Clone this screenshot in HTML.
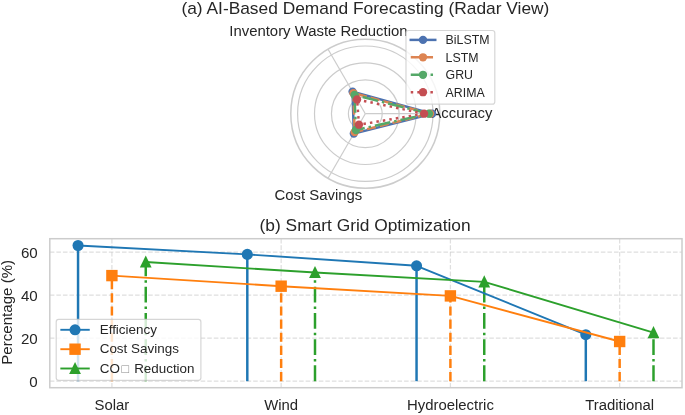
<!DOCTYPE html>
<html><head><meta charset="utf-8"><title>Charts</title>
<style>html,body{margin:0;padding:0;background:#fff}svg{display:block}text{font-family:"Liberation Sans",sans-serif;fill:#262626}</style></head><body>
<svg width="685" height="415" viewBox="0 0 685 415">
<rect width="685" height="415" fill="#fff"/>
<g fill="none" stroke="#cccccc" stroke-width="1.2">
<circle cx="365.3" cy="113.7" r="16.9"/>
<circle cx="365.3" cy="113.7" r="33.85"/>
<circle cx="365.3" cy="113.7" r="50.8"/>
<circle cx="365.3" cy="113.7" r="67.7"/>
<line x1="365.3" y1="113.7" x2="439.80" y2="113.70"/>
<line x1="365.3" y1="113.7" x2="328.05" y2="49.18"/>
<line x1="365.3" y1="113.7" x2="328.05" y2="178.22"/>
<circle cx="365.3" cy="113.7" r="74.5" stroke-width="1.5"/>
</g>
<text x="431.5" y="117.5" font-size="14.8">Accuracy</text>
<path d="M432.10 113.70 L352.55 91.62 L353.80 133.62 L432.10 113.70" fill="none" stroke="#4c72b0" stroke-width="2.475" stroke-linejoin="round"/>
<circle cx="432.10" cy="113.70" r="4.15" fill="#4c72b0"/>
<circle cx="352.55" cy="91.62" r="4.15" fill="#4c72b0"/>
<circle cx="353.80" cy="133.62" r="4.15" fill="#4c72b0"/>
<path d="M430.10 113.70 L353.40 93.09 L354.65 132.15 L430.10 113.70" fill="none" stroke="#dd8452" stroke-width="2.475" stroke-linejoin="round" stroke-dasharray="9.16 3.96"/>
<circle cx="430.10" cy="113.70" r="4.15" fill="#dd8452"/>
<circle cx="353.40" cy="93.09" r="4.15" fill="#dd8452"/>
<circle cx="354.65" cy="132.15" r="4.15" fill="#dd8452"/>
<path d="M428.90 113.70 L354.50 94.99 L355.90 129.98 L428.90 113.70" fill="none" stroke="#55a868" stroke-width="2.475" stroke-linejoin="round" stroke-dasharray="15.84 3.96 2.475 3.96"/>
<circle cx="428.90" cy="113.70" r="4.15" fill="#55a868"/>
<circle cx="354.50" cy="94.99" r="4.15" fill="#55a868"/>
<circle cx="355.90" cy="129.98" r="4.15" fill="#55a868"/>
<path d="M424.10 113.70 L357.10 99.50 L358.95 124.70 L424.10 113.70" fill="none" stroke="#c44e52" stroke-width="2.475" stroke-linejoin="round" stroke-dasharray="2.475 4.08"/>
<circle cx="424.10" cy="113.70" r="4.15" fill="#c44e52"/>
<circle cx="357.10" cy="99.50" r="4.15" fill="#c44e52"/>
<circle cx="358.95" cy="124.70" r="4.15" fill="#c44e52"/>
<text x="318.4" y="35.9" font-size="14.9" text-anchor="middle">Inventory Waste Reduction</text>
<text x="318.4" y="199.6" font-size="14.9" text-anchor="middle">Cost Savings</text>
<text x="365.4" y="14" font-size="17.35" text-anchor="middle">(a) AI-Based Demand Forecasting (Radar View)</text>
<rect x="406.0" y="30.5" width="88.8" height="73.7" rx="2.5" fill="#fff" fill-opacity="0.8" stroke="#cccccc" stroke-opacity="0.8" stroke-width="1.2"/>
<line x1="410.75" y1="39.9" x2="435.25" y2="39.9" stroke="#4c72b0" stroke-width="2.475" stroke-linecap="square"/>
<circle cx="423" cy="39.9" r="4.15" fill="#4c72b0"/>
<text x="445.6" y="44.2" font-size="12.35">BiLSTM</text>
<line x1="410.75" y1="57.3" x2="435.25" y2="57.3" stroke="#dd8452" stroke-width="2.475" stroke-dasharray="9.16 3.96"/>
<circle cx="423" cy="57.3" r="4.15" fill="#dd8452"/>
<text x="445.6" y="61.6" font-size="12.35">LSTM</text>
<line x1="410.75" y1="74.8" x2="435.25" y2="74.8" stroke="#55a868" stroke-width="2.475" stroke-dasharray="15.84 3.96 2.475 3.96"/>
<circle cx="423" cy="74.8" r="4.15" fill="#55a868"/>
<text x="445.6" y="79.1" font-size="12.35">GRU</text>
<line x1="410.75" y1="92.2" x2="435.25" y2="92.2" stroke="#c44e52" stroke-width="2.475" stroke-dasharray="2.475 4.08"/>
<circle cx="423" cy="92.2" r="4.15" fill="#c44e52"/>
<text x="445.6" y="96.5" font-size="12.35">ARIMA</text>
<rect x="49.8" y="238.7" width="632.2" height="149.0" fill="#fff"/>
<g stroke="#cccccc" stroke-opacity="0.62" stroke-width="1.24" stroke-dasharray="4.58 1.98" fill="none">
<line x1="49.8" y1="381.20" x2="682.0" y2="381.20"/>
<line x1="49.8" y1="338.20" x2="682.0" y2="338.20"/>
<line x1="49.8" y1="295.20" x2="682.0" y2="295.20"/>
<line x1="49.8" y1="252.20" x2="682.0" y2="252.20"/>
<line x1="111.90" y1="387.7" x2="111.90" y2="238.7"/>
<line x1="281.15" y1="387.7" x2="281.15" y2="238.7"/>
<line x1="450.40" y1="387.7" x2="450.40" y2="238.7"/>
<line x1="619.65" y1="387.7" x2="619.65" y2="238.7"/>
</g>
<line x1="78.05" y1="381.2" x2="78.05" y2="245.50" stroke="#1f77b4" stroke-width="2.475"/>
<line x1="247.30" y1="381.2" x2="247.30" y2="254.40" stroke="#1f77b4" stroke-width="2.475"/>
<line x1="416.55" y1="381.2" x2="416.55" y2="265.80" stroke="#1f77b4" stroke-width="2.475"/>
<line x1="585.80" y1="381.2" x2="585.80" y2="334.70" stroke="#1f77b4" stroke-width="2.475"/>
<line x1="111.90" y1="381.2" x2="111.90" y2="275.60" stroke="#ff7f0e" stroke-width="2.475" stroke-dasharray="9.16 3.96"/>
<line x1="281.15" y1="381.2" x2="281.15" y2="286.20" stroke="#ff7f0e" stroke-width="2.475" stroke-dasharray="9.16 3.96"/>
<line x1="450.40" y1="381.2" x2="450.40" y2="295.90" stroke="#ff7f0e" stroke-width="2.475" stroke-dasharray="9.16 3.96"/>
<line x1="619.65" y1="381.2" x2="619.65" y2="341.50" stroke="#ff7f0e" stroke-width="2.475" stroke-dasharray="9.16 3.96"/>
<line x1="145.75" y1="381.2" x2="145.75" y2="262.05" stroke="#2ca02c" stroke-width="2.475" stroke-dasharray="15.84 3.96 2.475 3.96"/>
<line x1="315.00" y1="381.2" x2="315.00" y2="272.50" stroke="#2ca02c" stroke-width="2.475" stroke-dasharray="15.84 3.96 2.475 3.96"/>
<line x1="484.25" y1="381.2" x2="484.25" y2="281.90" stroke="#2ca02c" stroke-width="2.475" stroke-dasharray="15.84 3.96 2.475 3.96"/>
<line x1="653.50" y1="381.2" x2="653.50" y2="332.60" stroke="#2ca02c" stroke-width="2.475" stroke-dasharray="15.84 3.96 2.475 3.96"/>
<path d="M78.05 245.50 L247.30 254.40 L416.55 265.80 L585.80 334.70" fill="none" stroke="#1f77b4" stroke-width="1.9" stroke-linejoin="round"/>
<circle cx="78.05" cy="245.50" r="5.55" fill="#1f77b4"/>
<circle cx="247.30" cy="254.40" r="5.55" fill="#1f77b4"/>
<circle cx="416.55" cy="265.80" r="5.55" fill="#1f77b4"/>
<circle cx="585.80" cy="334.70" r="5.55" fill="#1f77b4"/>
<path d="M111.90 275.60 L281.15 286.20 L450.40 295.90 L619.65 341.50" fill="none" stroke="#ff7f0e" stroke-width="1.9" stroke-linejoin="round"/>
<rect x="106.20" y="269.90" width="11.4" height="11.4" fill="#ff7f0e"/>
<rect x="275.45" y="280.50" width="11.4" height="11.4" fill="#ff7f0e"/>
<rect x="444.70" y="290.20" width="11.4" height="11.4" fill="#ff7f0e"/>
<rect x="613.95" y="335.80" width="11.4" height="11.4" fill="#ff7f0e"/>
<path d="M145.75 262.05 L315.00 272.50 L484.25 281.90 L653.50 332.60" fill="none" stroke="#2ca02c" stroke-width="1.9" stroke-linejoin="round"/>
<path d="M145.75 255.45 L151.65 267.60 L139.85 267.60 Z" fill="#2ca02c"/>
<path d="M315.00 265.90 L320.90 278.05 L309.10 278.05 Z" fill="#2ca02c"/>
<path d="M484.25 275.30 L490.15 287.45 L478.35 287.45 Z" fill="#2ca02c"/>
<path d="M653.50 326.00 L659.40 338.15 L647.60 338.15 Z" fill="#2ca02c"/>
<rect x="49.8" y="238.7" width="632.2" height="149.0" fill="none" stroke="#cccccc" stroke-width="1.5"/>
<text x="37.7" y="386.7" font-size="15.1" text-anchor="end">0</text>
<text x="37.7" y="343.7" font-size="15.1" text-anchor="end">20</text>
<text x="37.7" y="300.7" font-size="15.1" text-anchor="end">40</text>
<text x="37.7" y="257.7" font-size="15.1" text-anchor="end">60</text>
<text x="111.90" y="409.8" font-size="14.9" text-anchor="middle">Solar</text>
<text x="281.15" y="409.8" font-size="14.9" text-anchor="middle">Wind</text>
<text x="450.40" y="409.8" font-size="14.9" text-anchor="middle">Hydroelectric</text>
<text x="619.65" y="409.8" font-size="14.9" text-anchor="middle">Traditional</text>
<text transform="translate(12.1 312.3) rotate(-90)" font-size="15.1" text-anchor="middle">Percentage (%)</text>
<text x="365.1" y="230.9" font-size="17.35" text-anchor="middle">(b) Smart Grid Optimization</text>
<rect x="56.2" y="319.4" width="144.7" height="60.9" rx="2.5" fill="#fff" fill-opacity="0.8" stroke="#cccccc" stroke-opacity="0.8" stroke-width="1.2"/>
<line x1="61.3" y1="329.8" x2="88.8" y2="329.8" stroke="#1f77b4" stroke-width="1.9" stroke-linecap="square"/>
<circle cx="75.05" cy="329.80" r="5.55" fill="#1f77b4"/>
<text x="99.7" y="333.9" font-size="13.45">Efficiency</text>
<line x1="61.3" y1="349.2" x2="88.8" y2="349.2" stroke="#ff7f0e" stroke-width="1.9" stroke-linecap="square"/>
<rect x="69.35" y="343.50" width="11.4" height="11.4" fill="#ff7f0e"/>
<text x="99.7" y="353.3" font-size="13.45">Cost Savings</text>
<line x1="61.3" y1="368.5" x2="88.8" y2="368.5" stroke="#2ca02c" stroke-width="1.9" stroke-linecap="square"/>
<path d="M75.05 361.90 L80.95 374.05 L69.15 374.05 Z" fill="#2ca02c"/>
<text x="99.7" y="372.6" font-size="13.45">CO<tspan x="121.6" font-size="12.6" fill="#8a8a8a">□</tspan><tspan x="134.2" font-size="13.4">Reduction</tspan></text>
</svg></body></html>
